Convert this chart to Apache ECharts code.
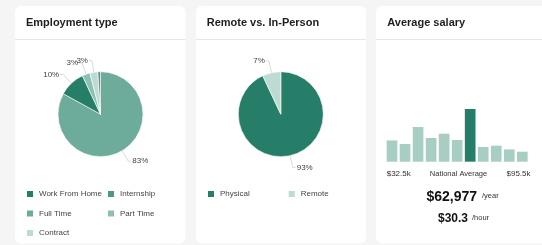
<!DOCTYPE html>
<html>
<head>
<meta charset="utf-8">
<script src="https://cdn.jsdelivr.net/npm/echarts@6/dist/echarts.min.js"></script>
<style>
html,body{margin:0;padding:0;background:#f5f5f5;}
#c{width:542px;height:245px;}
</style>
</head>
<body>
<div id="c"></div>
<script>
// ---- data ----
const employmentNames = ['Full Time', 'Work From Home', 'Part Time', 'Contract', 'Internship'];
const employmentValues = [83, 10, 3, 3, 1];
const employmentLegendCol1 = ['Work From Home', 'Full Time', 'Contract'];
const employmentLegendCol2 = ['Internship', 'Part Time'];
const remoteNames = ['Physical', 'Remote'];
const remoteValues = [93, 7];
const salaryBins = ['b1','b2','b3','b4','b5','b6','b7','b8','b9','b10','b11'];
const salaryCounts = [21.3, 17.7, 34.7, 23.7, 28, 21.7, 52.7, 14.7, 16, 12.3, 10];
const nationalAverageIndex = 6;
const salaryMinLabel = '$32.5k';
const salaryMaxLabel = '$95.5k';
const salaryMidLabel = 'National Average';
const yearlySalary = '$62,977';
const hourlySalary = '$30.3';

// ---- styles ----
const FONT = '"Liberation Sans", Arial, sans-serif';
const colorMap = {
  'Work From Home': '#267e69',
  'Internship': '#4d9986',
  'Full Time': '#6dac9b',
  'Part Time': '#8cc0b2',
  'Contract': '#bcdcd3',
  'Physical': '#267e69',
  'Remote': '#bcdcd3'
};
const barLight = '#a8cdc2';
const barDark = '#267e69';

function pieData(names, values) {
  return names.map((n, i) => ({ name: n, value: values[i], itemStyle: { color: colorMap[n] } }));
}

const pieCommon = {
  type: 'pie',
  radius: 42.5,
  startAngle: 90,
  clockwise: true,
  minShowLabelAngle: 5,
  avoidLabelOverlap: false,
  labelLayout: { hideOverlap: false, moveOverlap: null },
  silent: true,
  itemStyle: { borderColor: '#fff', borderWidth: 0.6 },
  label: {
    show: true, position: 'outside', fontSize: 8, color: '#444', fontFamily: FONT,
    distanceToLabelLine: 1,
    formatter: p => Math.round(p.percent) + '%'
  },
  labelLine: { show: true, length: 12, length2: 3, lineStyle: { color: '#cfcfcf', width: 0.8 } },
  emphasis: { disabled: true }
};

function legend(left, data) {
  return {
    orient: 'vertical', left: left, top: 189, padding: 0,
    itemWidth: 8, itemHeight: 8, itemGap: 9.5, icon: 'rect',
    selectedMode: false, data: data,
    textStyle: { fontSize: 8, color: '#444', fontFamily: FONT, lineHeight: 10 }
  };
}

function txt(x, y, text, font, fill, align) {
  return { type: 'text', x: x, y: y, silent: true,
    style: { text: text, font: font, fill: fill, align: align || 'left', verticalAlign: 'middle',
      textAlign: align || 'left', textVerticalAlign: 'middle' } };
}

const cards = [
  { x: 15, w: 170.5, title: 'Employment type', tx: 26 },
  { x: 196, w: 170, title: 'Remote vs. In-Person', tx: 206.7 },
  { x: 376, w: 180, title: 'Average salary', tx: 387.3 }
];

const graphics = [];
cards.forEach(c => {
  graphics.push({ type: 'rect', silent: true, z: -10, shape: { x: c.x, y: 6, width: c.w, height: 237.5, r: 6 },
    style: { fill: '#ffffff' } });
  graphics.push({ type: 'line', silent: true, z: -9, shape: { x1: c.x, y1: 39.5, x2: c.x + c.w, y2: 39.5 },
    style: { stroke: '#e6e6e6', lineWidth: 1 } });
  graphics.push(txt(c.tx, 22.5, c.title, 'bold 11px ' + FONT, '#1e1e1e'));
});
graphics.push(txt(386.7, 174, salaryMinLabel, '8px ' + FONT, '#333'));
graphics.push(txt(458.5, 174, salaryMidLabel, '7.5px ' + FONT, '#333', 'center'));
graphics.push(txt(530.5, 174, salaryMaxLabel, '8px ' + FONT, '#333', 'right'));
graphics.push(txt(426.5, 197, yearlySalary, 'bold 14px ' + FONT, '#111'));
graphics.push(txt(482, 195.5, '/year', '7.5px ' + FONT, '#333'));
graphics.push(txt(438, 219, hourlySalary, 'bold 12px ' + FONT, '#111'));
graphics.push(txt(472, 218, '/hour', '7.5px ' + FONT, '#333'));

const chart = echarts.init(document.getElementById('c'), null, { renderer: 'canvas' });
chart.setOption({
  animation: false,
  backgroundColor: '#f5f5f5',
  textStyle: { fontFamily: FONT },
  graphic: graphics,
  legend: [
    legend(25, employmentLegendCol1),
    legend(106, employmentLegendCol2),
    legend(206, ['Physical']),
    legend(286.7, ['Remote'])
  ],
  grid: { left: 385.5, top: 101.7, width: 143.3, height: 60 },
  xAxis: { type: 'category', data: salaryBins, show: false },
  yAxis: { type: 'value', min: 0, max: 60, show: false },
  series: [
    Object.assign({}, pieCommon, { name: 'Employment type', center: [100.5, 114.2], data: pieData(employmentNames, employmentValues) }),
    Object.assign({}, pieCommon, { name: 'Remote vs. In-Person', center: [280.8, 114.2], data: pieData(remoteNames, remoteValues) }),
    {
      type: 'bar', silent: true, barCategoryGap: '18%',
      data: salaryCounts.map((v, i) => ({ value: v, itemStyle: { color: i === nationalAverageIndex ? barDark : barLight } }))
    }
  ]
});
</script>
</body>
</html>
